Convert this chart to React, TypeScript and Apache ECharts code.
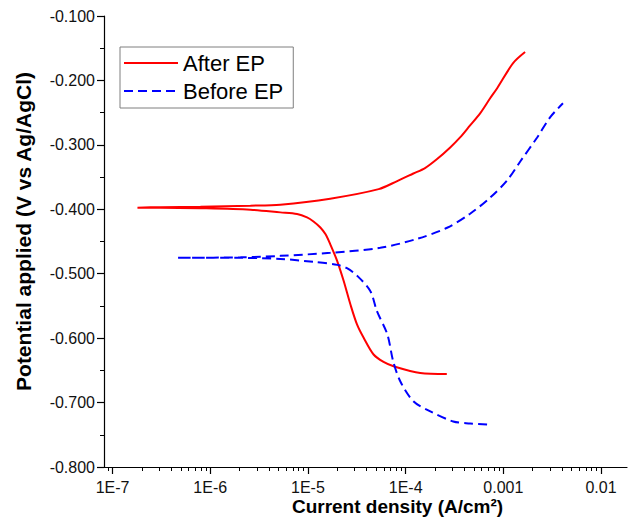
import React, { useEffect, useRef } from "react";
import * as echarts from "echarts";

// Current density (A/cm2) and potential (V vs Ag/AgCl), scan order: cathodic end -> Ecorr -> anodic end
const currentAfter = [2.64e-4, 1.41e-4, 7.52e-5, 5.94e-5, 4.70e-5, 3.72e-5, 3.18e-5, 2.72e-5, 2.32e-5, 1.99e-5, 1.69e-5, 1.51e-5, 1.34e-5, 1.14e-5, 9.79e-6, 7.74e-6, 5.22e-6, 2.58e-6, 7.94e-7, 3.10e-7, 1.80e-7, 3.10e-7, 7.94e-7, 2.58e-6, 5.22e-6, 1.69e-5, 5.30e-5, 8.2e-5, 1.20e-4, 1.58e-4, 2.10e-4, 2.86e-4, 3.61e-4, 4.57e-4, 5.79e-4, 7.33e-4, 8.65e-4, 1.26e-3, 1.67e-3];
const potentialAfter = [-0.6556, -0.654, -0.6436, -0.637, -0.6254, -0.5995, -0.5787, -0.5475, -0.511, -0.48, -0.454, -0.4385, -0.4282, -0.4189, -0.4126, -0.4073, -0.4048, -0.4006, -0.3983, -0.3975, -0.3975, -0.3967, -0.396, -0.3944, -0.3928, -0.3835, -0.3687, -0.3562, -0.3445, -0.336, -0.322, -0.304, -0.2885, -0.2698, -0.2511, -0.2277, -0.2121, -0.1732, -0.156];

const currentBefore = [6.82e-4, 4.57e-4, 3.07e-4, 1.79e-4, 1.2e-4, 8.81e-5, 7.46e-5, 6.49e-5, 5.08e-5, 4.35e-5, 3.2e-5, 2.51e-5, 2.0e-5, 1.14e-5, 5.22e-6, 2.04e-6, 4.62e-7, 2.04e-6, 5.22e-6, 1.69e-5, 5.5e-5, 1.32e-4, 2.66e-4, 4.57e-4, 7.33e-4, 1.09e-3, 1.49e-3, 2.22e-3, 3.01e-3, 4.08e-3];
const potentialBefore = [-0.734, -0.7324, -0.7293, -0.7137, -0.698, -0.667, -0.636, -0.5938, -0.558, -0.5268, -0.5034, -0.4915, -0.4863, -0.4816, -0.477, -0.4754, -0.4754, -0.4746, -0.4723, -0.4676, -0.4598, -0.4458, -0.4287, -0.4069, -0.3819, -0.3555, -0.3258, -0.2885, -0.2573, -0.2355];

const seriesNames = ["After EP", "Before EP"];

const xTickValues = [1e-7, 1e-6, 1e-5, 1e-4, 1e-3, 1e-2];
const xTickLabels = ["1E-7", "1E-6", "1E-5", "1E-4", "0.001", "0.01"];
const xMin = 8.18e-8;
const xMax = 0.01845;

const yMin = -0.8;
const yMax = -0.1;
const yStep = 0.1;

const FONT = "'Liberation Sans', Arial, Helvetica, sans-serif";

export default function App() {
  const ref = useRef<HTMLDivElement>(null);

  useEffect(() => {
    if (!ref.current) return;
    const chart = echarts.init(ref.current, undefined, { renderer: "svg" });

    const lgMin = Math.log10(xMin);
    const lgMax = Math.log10(xMax);
    const majorLog = xTickValues.map((v) => Math.log10(v));
    const minorLog: number[] = [];
    for (let n = -8; n <= -2; n++) {
      for (let k = 2; k <= 9; k++) {
        const lv = Math.log10(k * Math.pow(10, n));
        if (lv > lgMin && lv < lgMax) minorLog.push(lv);
      }
    }
    const fmtX = (v: number) => {
      const i = majorLog.findIndex((m) => Math.abs(m - v) < 1e-6);
      return i >= 0 ? xTickLabels[i] : "";
    };

    const toData = (cur: number[], pot: number[]) =>
      cur.map((c, i) => [Math.log10(c), pot[i]]);

    const gridBox = {
      left: 104,
      right: 4,
      top: 16,
      bottom: 52,
      containLabel: false,
      outerBoundsMode: "none",
    };

    chart.setOption({
      animation: false,
      backgroundColor: "#ffffff",
      textStyle: { fontFamily: FONT },
      grid: [{ ...gridBox }, { ...gridBox }],
      legend: {
        orient: "vertical",
        left: 120,
        top: 47,
        padding: [5, 10, 6, 3],
        itemGap: 6,
        itemWidth: 54,
        itemHeight: 14,
        borderColor: "#7f7f7f",
        borderWidth: 1,
        itemStyle: { opacity: 0, color: "transparent", borderWidth: 0 },
        textStyle: { fontSize: 22, color: "#000", fontFamily: FONT },
        data: seriesNames,
      },
      xAxis: [
        {
          type: "value",
          gridIndex: 0,
          min: lgMin,
          max: lgMax,
          name: "Current density (A/cm²)",
          nameLocation: "middle",
          nameGap: 30,
          nameMoveOverlap: false,
          nameTextStyle: {
            fontSize: 19,
            fontWeight: "bold",
            color: "#000",
            fontFamily: FONT,
            padding: [0, 0, 0, 64],
          },
          axisLine: { show: true, onZero: false, lineStyle: { color: "#000", width: 1.2 } },
          axisTick: { show: true, length: 7, customValues: majorLog, lineStyle: { color: "#000", width: 1.2 } },
          axisLabel: {
            show: true,
            customValues: majorLog,
            formatter: fmtX,
            fontSize: 16,
            margin: 12,
            color: "#111",
            fontFamily: FONT,
          },
          splitLine: { show: false },
        },
        {
          type: "value",
          gridIndex: 1,
          min: lgMin,
          max: lgMax,
          axisLine: { show: false, onZero: false },
          axisTick: { show: true, length: 4, customValues: minorLog, lineStyle: { color: "#000", width: 1 } },
          axisLabel: { show: false },
          splitLine: { show: false },
        },
      ],
      yAxis: [
        {
          type: "value",
          gridIndex: 0,
          min: yMin,
          max: yMax,
          interval: yStep,
          name: "Potential applied (V vs Ag/AgCl)",
          nameLocation: "middle",
          nameGap: 70,
          nameMoveOverlap: false,
          nameTextStyle: {
            fontSize: 21,
            fontWeight: "bold",
            color: "#000",
            fontFamily: FONT,
            padding: [0, 0, 0, 20],
          },
          axisLine: { show: true, onZero: false, lineStyle: { color: "#000", width: 1.2 } },
          axisTick: { show: true, length: 7, lineStyle: { color: "#000", width: 1.2 } },
          minorTick: { show: true, splitNumber: 2, length: 4, lineStyle: { color: "#000", width: 1 } },
          axisLabel: {
            formatter: (v: number) => v.toFixed(3),
            fontSize: 16,
            margin: 9,
            color: "#111",
            fontFamily: FONT,
          },
          splitLine: { show: false },
          minorSplitLine: { show: false },
        },
        {
          type: "value",
          gridIndex: 1,
          show: false,
          min: 0,
          max: 1,
        },
      ],
      series: [
        {
          name: seriesNames[0],
          type: "line",
          xAxisIndex: 0,
          yAxisIndex: 0,
          data: toData(currentAfter, potentialAfter),
          symbol: "none",
          showSymbol: false,
          smooth: 0.3,
          lineStyle: { color: "#ff0000", width: 2, type: "solid" },
          itemStyle: { color: "#ff0000" },
        },
        {
          name: seriesNames[1],
          type: "line",
          xAxisIndex: 0,
          yAxisIndex: 0,
          data: toData(currentBefore, potentialBefore),
          symbol: "none",
          showSymbol: false,
          smooth: 0.3,
          lineStyle: { color: "#0000ff", width: 2, type: [9, 5] },
          itemStyle: { color: "#0000ff" },
        },
      ],
    });

    return () => chart.dispose();
  }, []);

  return (
    <div
      ref={ref}
      style={{ position: "fixed", left: 0, top: 0, width: 631, height: 519, background: "#fff" }}
    />
  );
}
